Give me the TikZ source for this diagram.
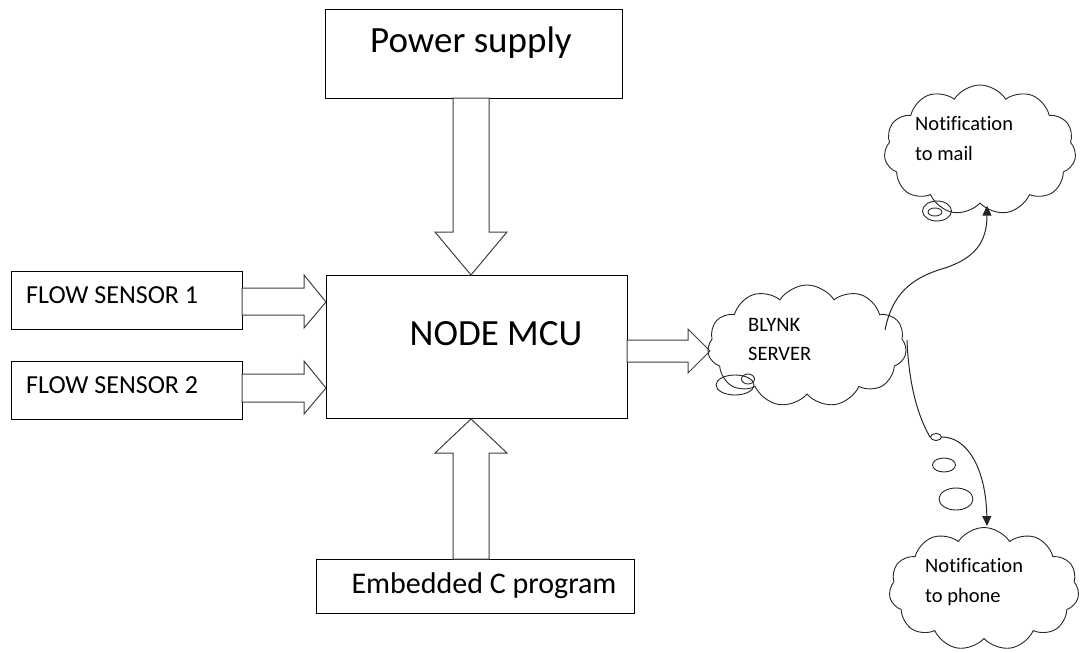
\documentclass[tikz,border=0pt]{standalone}
\usepackage{fontspec}
\setmainfont{Carlito}[Ligatures=NoCommon]
\usetikzlibrary{shapes.symbols,shapes.geometric,arrows.meta,calc}
\begin{document}
\begin{tikzpicture}[x=1pt,y=-1pt,
  box/.style={draw=black, line width=1pt, inner sep=0pt},
  blockarrow/.style={draw=black!75, line width=1pt, fill=white, line join=miter},
  cloudbox/.style={cloud, draw=black!85, line width=0.9pt, cloud puffs=11, cloud puff arc=115, cloud ignores aspect, inner sep=0pt},
  bubble/.style={ellipse, draw=black!85, line width=0.9pt, inner sep=0pt},
  big/.style={font=\fontsize{37}{44}\selectfont},
  mid/.style={font=\fontsize{30}{36}\selectfont},
  small/.style={font=\fontsize{26}{31}\selectfont},
  tiny/.style={font=\fontsize{20.5}{25}\selectfont},
  curvearrow/.style={draw=black!85, line width=1pt, -{Triangle[length=10pt,width=9pt]}}
]
\useasboundingbox (0,0) rectangle (1080,653);

% boxes
\node[box, minimum width=297pt, minimum height=89pt] (ps) at (473.5,53.5) {};
\node[box, minimum width=301pt, minimum height=143pt] (mcu) at (476.5,346.5) {};
\node[box, minimum width=318pt, minimum height=54pt] (emb) at (475,586) {};
\node[box, minimum width=231pt, minimum height=58pt] (fs1) at (126.5,300) {};
\node[box, minimum width=231pt, minimum height=58pt] (fs2) at (126.5,390) {};

% labels
\node[big, anchor=base, inner sep=0pt] (pst) at (471,52) {Power supply};
\node[big, anchor=base, inner sep=0pt] (mcut) at (496,345) {NODE MCU};
\node[mid, anchor=base, inner sep=0pt] (embt) at (484,593) {Embedded C program};
\node[small, anchor=base west, inner sep=0pt] (fs1t) at (26,303) {FLOW SENSOR 1};
\node[small, anchor=base west, inner sep=0pt] (fs2t) at (26,393) {FLOW SENSOR 2};

% block arrows
\draw[blockarrow] (453,98) -- (453,232) -- (435,232) -- (471,275) -- (507,232) -- (489,232) -- (489,98) -- cycle;
\draw[blockarrow] (453,559) -- (453,453) -- (435,453) -- (471,419) -- (507,453) -- (489,453) -- (489,559) -- cycle;
\draw[blockarrow] (242,288) -- (304,288) -- (304,275) -- (326,302) -- (304,328) -- (304,315) -- (242,315) -- cycle;
\draw[blockarrow] (242,374) -- (304,374) -- (304,361) -- (326,388) -- (304,414) -- (304,402) -- (242,402) -- cycle;
\draw[blockarrow] (627,340) -- (688,340) -- (688,329) -- (710,351) -- (688,373) -- (688,362) -- (627,362) -- cycle;

% clouds
\node[cloudbox, minimum width=199pt, minimum height=122pt] (blynk) at (807,346) {};
\node[cloudbox, minimum width=192pt, minimum height=130pt] (mail) at (980,150) {};
\node[cloudbox, minimum width=190pt, minimum height=123pt] (phone) at (984,589) {};

\node[tiny, anchor=base west, inner sep=0pt] (bt1) at (748,331) {BLYNK};
\node[tiny, anchor=base west, inner sep=0pt] (bt2) at (748,360) {SERVER};
\node[tiny, anchor=base west, inner sep=0pt] (mt1) at (915,130) {Notification};
\node[tiny, anchor=base west, inner sep=0pt] (mt2) at (915,160) {to mail};
\node[tiny, anchor=base west, inner sep=0pt] (pt1) at (925,572) {Notification};
\node[tiny, anchor=base west, inner sep=0pt] (pt2) at (925,602) {to phone};

% thought bubbles
\node[bubble, minimum width=38pt, minimum height=20pt] (bb1) at (735,385) {};
\node[bubble, minimum width=13pt, minimum height=10pt] (bb2) at (748,379) {};
\node[bubble, minimum width=29pt, minimum height=20pt] (mb1) at (937,211) {};
\node[bubble, minimum width=14pt, minimum height=8pt] (mb2) at (935,212) {};
\node[bubble, minimum width=11pt, minimum height=7pt] (pb1) at (936,437) {};
\node[bubble, minimum width=23pt, minimum height=14pt] (pb2) at (944,465) {};
\node[bubble, minimum width=34pt, minimum height=22pt] (pb3) at (956,499) {};

% curved connectors
\coordinate (bs1) at ($(blynk.center)+(78,-16)$);
\coordinate (bs2) at ($(blynk.center)+(100,-6)$);
\draw[curvearrow] (bs1) .. controls (892,295) and (910,278) .. (945,268)
   .. controls (975,258) and (987,242) .. ($(mail.south)+(7,2)$);
\draw[draw=black!85, line width=1pt] (bs2) .. controls (909,390) and (920,420) .. (pb1.west);
\draw[curvearrow] (pb1.east) .. controls (968,437) and (986,470) .. ($(phone.north)+(3,-1)$);
\end{tikzpicture}
\end{document}
